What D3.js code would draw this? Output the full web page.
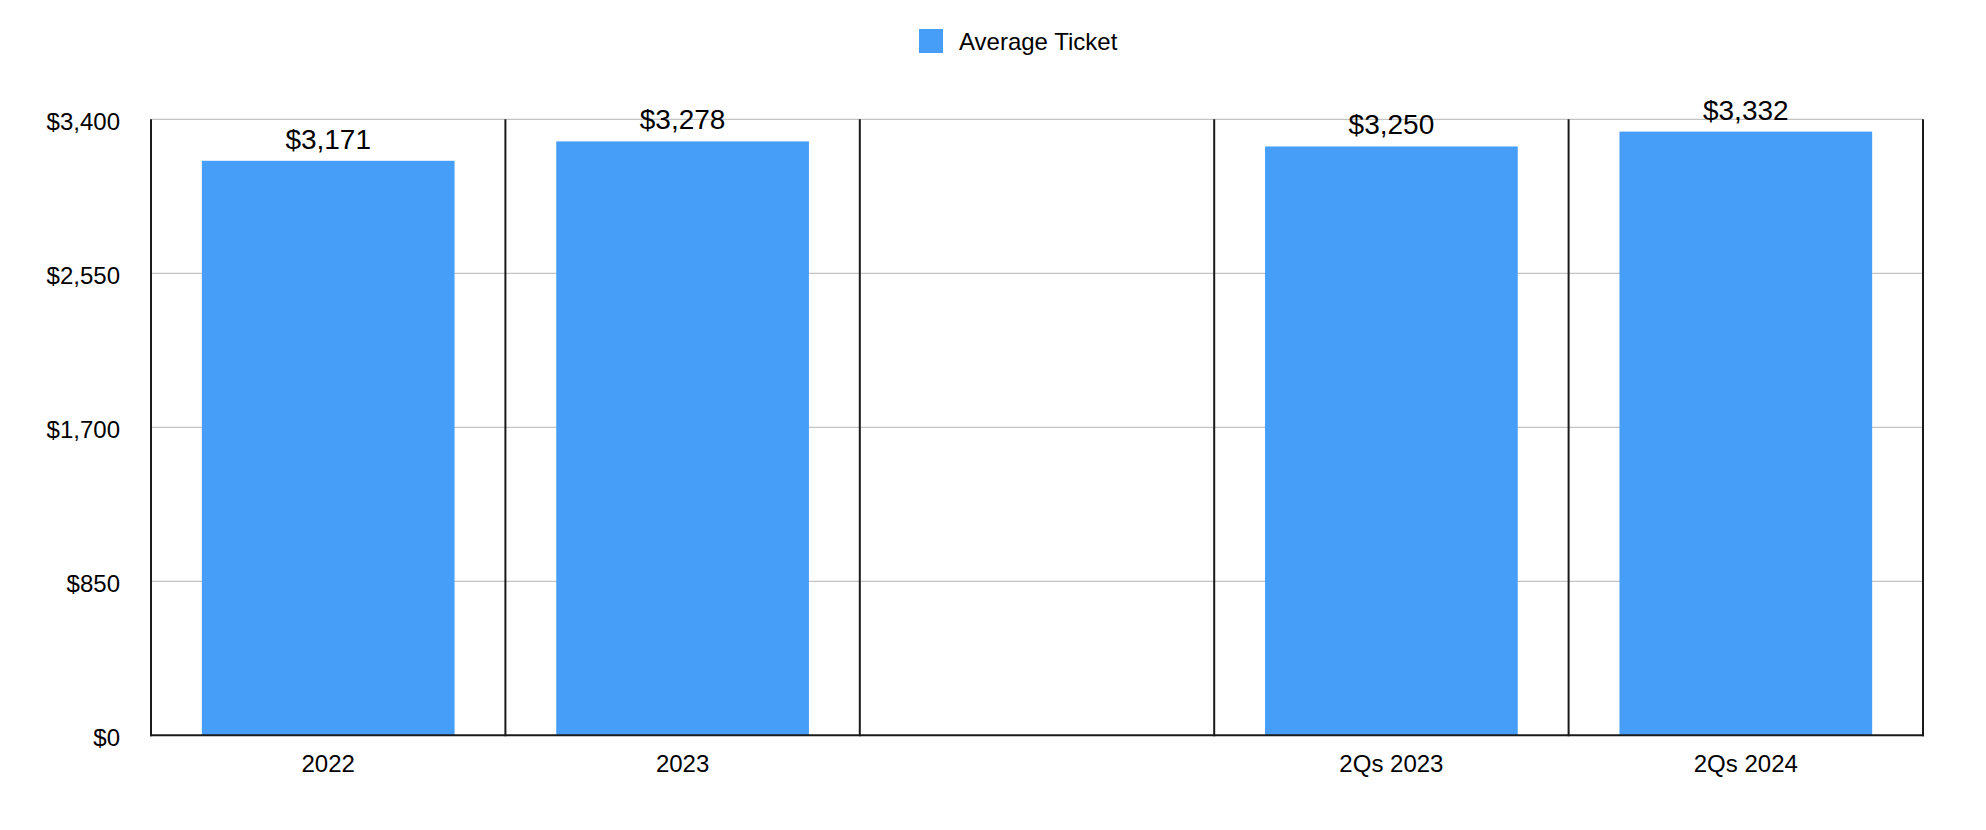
<!DOCTYPE html>
<html>
<head>
<meta charset="utf-8">
<script src="https://cdn.jsdelivr.net/npm/d3@7"></script>
<style>
html,body{margin:0;padding:0;background:#fff;}
svg{display:block;font-family:"Liberation Sans",Arial,Helvetica,sans-serif;}
</style>
</head>
<body>
<svg id="chart" width="1986" height="830"></svg>
<script>
const categories = ["2022", "2023", " ", "2Qs 2023", "2Qs 2024"];
const values = [3171, 3278, null, 3250, 3332];
const yTicks = [0, 850, 1700, 2550, 3400];
const seriesName = "Average Ticket";
const barColor = "#479ef8";

const svg = d3.select("#chart");
const m = {left: 151, right: 1923, top: 119.3, bottom: 735.3};

const x = d3.scaleBand().domain(categories).range([m.left, m.right])
  .paddingInner(0.287).paddingOuter(0.1435);
const y = d3.scaleLinear().domain([0, 3400]).range([m.bottom, m.top]);
const step = x.step();

// gridlines
svg.append("g").selectAll("line").data(yTicks.filter(d => d > 0)).join("line")
  .attr("x1", m.left).attr("x2", m.right)
  .attr("y1", d => y(d)).attr("y2", d => y(d))
  .attr("stroke", "#c4c4c4").attr("stroke-width", 1.3);

// y tick labels
const yAxis = d3.axisLeft(y).tickValues(yTicks).tickSize(0).tickPadding(31)
  .tickFormat(d => "$" + d3.format(",")(d));
const ya = svg.append("g").attr("transform", `translate(${m.left},0)`).call(yAxis);
ya.select(".domain").remove();
ya.selectAll("text").attr("font-size", 24).attr("fill", "#000")
  .attr("font-family", "Liberation Sans, Arial, sans-serif").attr("dy", "0.42em");

// bars
const data = categories.map((c, i) => ({c, v: values[i]})).filter(d => d.v != null);
svg.append("g").selectAll("rect").data(data).join("rect")
  .attr("x", d => x(d.c)).attr("width", x.bandwidth())
  .attr("y", d => y(d.v)).attr("height", d => y(0) - y(d.v))
  .attr("fill", barColor);

// value labels
svg.append("g").selectAll("text").data(data).join("text")
  .attr("x", d => x(d.c) + x.bandwidth() / 2)
  .attr("y", d => y(d.v) - 12)
  .attr("text-anchor", "middle").attr("font-size", 28).attr("fill", "#000")
  .text(d => "$" + d3.format(",")(d.v));

// vertical dividers
const bounds = d3.range(categories.length + 1).map(i => m.left + i * step);
svg.append("g").selectAll("line").data(bounds).join("line")
  .attr("x1", d => d).attr("x2", d => d)
  .attr("y1", m.top).attr("y2", m.bottom + 1)
  .attr("stroke", "#1a1a1a").attr("stroke-width", 2);

// bottom axis line
svg.append("line").attr("x1", m.left - 1).attr("x2", m.right + 1)
  .attr("y1", m.bottom).attr("y2", m.bottom)
  .attr("stroke", "#1a1a1a").attr("stroke-width", 2);

// x labels
const xAxis = d3.axisBottom(x).tickSize(0).tickPadding(20);
const xa = svg.append("g").attr("transform", `translate(0,${m.bottom})`).call(xAxis);
xa.select(".domain").remove();
xa.selectAll("text").attr("font-size", 24).attr("fill", "#000")
  .attr("font-family", "Liberation Sans, Arial, sans-serif");

// legend
const lg = svg.append("g");
lg.append("rect").attr("x", 919).attr("y", 29).attr("width", 24).attr("height", 24).attr("fill", barColor);
lg.append("text").attr("x", 959).attr("y", 50).attr("font-size", 24).attr("fill", "#000").text(seriesName);
</script>
</body>
</html>
